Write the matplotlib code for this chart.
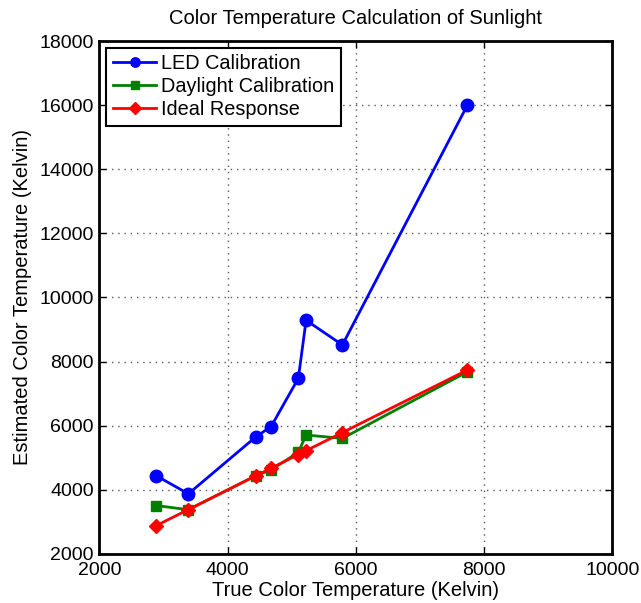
import matplotlib
matplotlib.use("Agg")
import matplotlib.pyplot as plt

plt.rcParams['font.family'] = ['Liberation Sans', 'DejaVu Sans']

# true colour temperatures of the sunlight samples (K)
trueTemp = [2882, 3386, 4441, 4675, 5101, 5222, 5788, 7735]
# estimates from the two calibrations
ledCal = [4445, 3876, 5658, 5970, 7480, 9290, 8520, 15990]
daylightCal = [3512, 3380, 4445, 4622, 5170, 5711, 5605, 7680]
ideal = trueTemp

xTicks = [2000, 4000, 6000, 8000, 10000]
yTicks = [2000, 4000, 6000, 8000, 10000, 12000, 14000, 16000, 18000]

fig = plt.figure(figsize=(6.41, 6.03), dpi=100)
ax = fig.add_axes([0.1552, 0.0813, 0.8003, 0.8507])

ax.plot(trueTemp, ledCal, color=(0, 0, 1), lw=2, marker='o', ms=9,
        label="LED Calibration")
ax.plot(trueTemp, daylightCal, color=(0, 0.5, 0), lw=2, marker='s', ms=7,
        label="Daylight Calibration")
ax.plot(trueTemp, ideal, color=(1, 0, 0), lw=2, marker='D', ms=7.5,
        label="Ideal Response")

ax.set_xlim(2000, 10000)
ax.set_ylim(2000, 18000)
ax.set_xticks(xTicks)
ax.set_yticks(yTicks)
ax.tick_params(direction='in', length=5, width=1, labelsize=14,
               top=True, right=True)
ax.tick_params(axis='x', pad=6)
ax.tick_params(axis='y', pad=4)
ax.grid(True, color='0.35', linestyle=(0, (1, 3.5)), linewidth=1)
for s in ax.spines.values():
    s.set_linewidth(2)

ax.set_title("Color Temperature Calculation of Sunlight", fontsize=14.5, pad=12)
ax.set_xlabel("True Color Temperature (Kelvin)", fontsize=14.5, labelpad=1)
ax.set_ylabel("Estimated Color Temperature (Kelvin)", fontsize=14.5, labelpad=5)

leg = ax.legend(loc='upper left', fontsize=14.3, markerscale=0.75, fancybox=False,
                framealpha=1, edgecolor='black', borderpad=0.32,
                labelspacing=0.2, handlelength=2.2, handletextpad=0.25,
                borderaxespad=0.35)
leg.get_frame().set_linewidth(1.5)

fig.savefig("out.png", dpi=100)
